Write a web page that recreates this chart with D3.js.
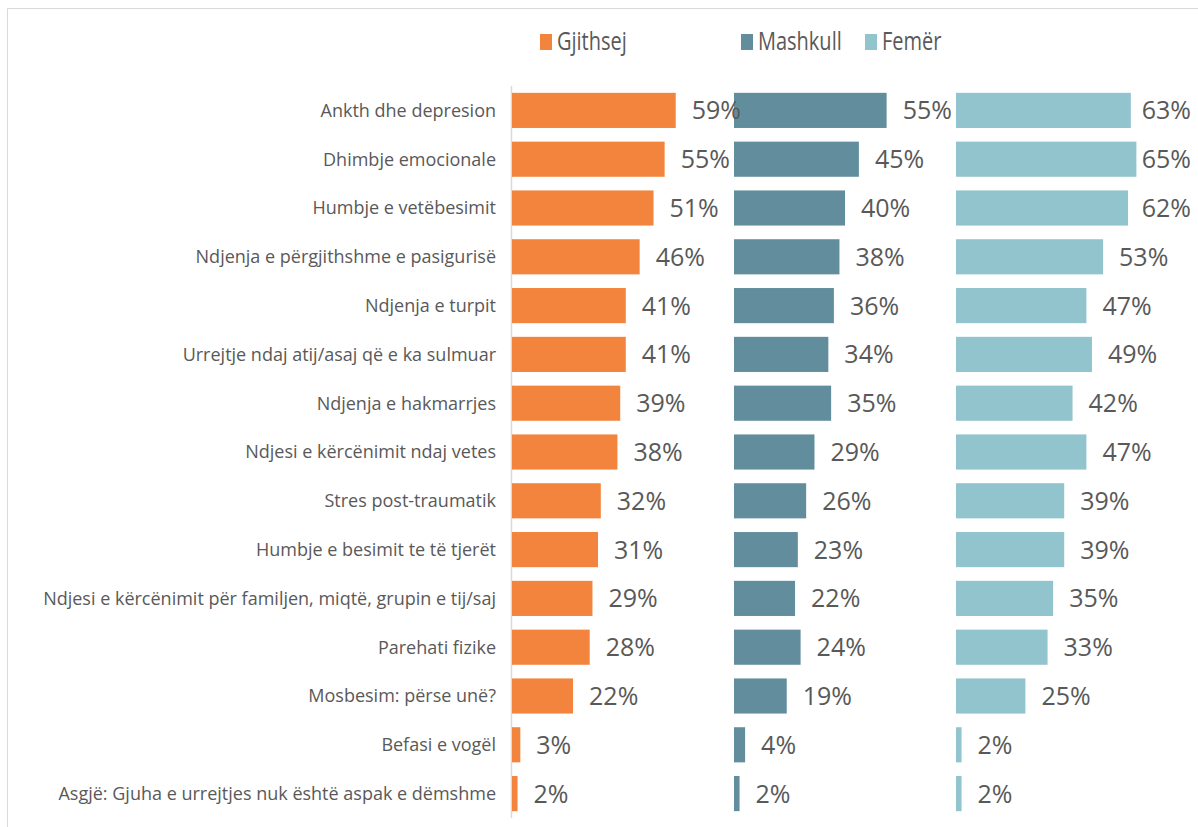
<!DOCTYPE html>
<html>
<head>
<meta charset="utf-8">
<script src="https://cdn.jsdelivr.net/npm/d3@7"></script>
<style>
  body { margin: 0; background: #fff; }
  svg { display: block; font-family: "Open Sans", sans-serif; }
</style>
</head>
<body>
<div id="chart"></div>
<script>
// Kategoritë (nga lart poshtë)
const categories = [
  "Ankth dhe depresion",
  "Dhimbje emocionale",
  "Humbje e vetëbesimit",
  "Ndjenja e përgjithshme e pasigurisë",
  "Ndjenja e turpit",
  "Urrejtje ndaj atij/asaj që e ka sulmuar",
  "Ndjenja e hakmarrjes",
  "Ndjesi e kërcënimit ndaj vetes",
  "Stres post-traumatik",
  "Humbje e besimit te të tjerët",
  "Ndjesi e kërcënimit për familjen, miqtë, grupin e tij/saj",
  "Parehati fizike",
  "Mosbesim: përse unë?",
  "Befasi e vogël",
  "Asgjë: Gjuha e urrejtjes nuk është aspak e dëmshme"
];

const seriesNames = ["Gjithsej", "Mashkull", "Femër"];

const gjithsej = [59, 55, 51, 46, 41, 41, 39, 38, 32, 31, 29, 28, 22, 3, 2];
const mashkull = [55, 45, 40, 38, 36, 34, 35, 29, 26, 23, 22, 24, 19, 4, 2];
const femer    = [63, 65, 62, 53, 47, 49, 42, 47, 39, 39, 35, 33, 25, 2, 2];

const colors = ["#F3843D", "#628D9C", "#91C4CD"];

const series = [gjithsej, mashkull, femer];

const width = 1198;
const height = 827;
const labelMaxX = 1191; // etiketat nuk kalojnë këtë kufi

const svg = d3.select("#chart")
  .append("svg")
  .attr("width", width)
  .attr("height", height);

// korniza e lehtë gri
svg.append("path")
  .attr("d", `M7.5,${height} V8.5 H${width}`)
  .attr("fill", "none")
  .attr("stroke", "#d9d9d9")
  .attr("stroke-width", 1);

// boshti vertikal
const y = d3.scaleBand()
  .domain(categories)
  .range([86, 818])
  .paddingInner(0.28)
  .paddingOuter(0.14);

// paneli për secilën seri
const panel = d3.scaleBand()
  .domain(seriesNames)
  .range([512, 512 + 3 * 222]);

const x = d3.scaleLinear()
  .domain([0, 80])
  .range([0, 222]);

svg.append("line")
  .attr("x1", 511.5).attr("x2", 511.5)
  .attr("y1", 86).attr("y2", 818)
  .attr("stroke", "#d9d9d9")
  .attr("stroke-width", 1.5);

// emrat e kategorive
svg.selectAll(".cat")
  .data(categories)
  .enter()
  .append("text")
  .attr("class", "cat")
  .attr("x", 496)
  .attr("y", d => y(d) + y.bandwidth() / 2)
  .attr("dy", "0.35em")
  .attr("text-anchor", "end")
  .attr("fill", "#595959")
  .style("font-size", "18px")
  .text(d => d);

// shiritat
series.forEach((vals, i) => {
  const x0 = panel(seriesNames[i]);
  svg.selectAll(".bar" + i)
    .data(vals)
    .enter()
    .append("rect")
    .attr("class", "bar" + i)
    .attr("x", x0)
    .attr("y", (d, j) => y(categories[j]))
    .attr("width", d => x(d))
    .attr("height", y.bandwidth())
    .attr("fill", colors[i]);
});

// etiketat e vlerave (mbi shiritat)
series.forEach((vals, i) => {
  const x0 = panel(seriesNames[i]);
  svg.selectAll(".val" + i)
    .data(vals)
    .enter()
    .append("text")
    .attr("class", "val" + i)
    .attr("x", d => x0 + x(d) + 16)
    .attr("y", (d, j) => y(categories[j]) + y.bandwidth() / 2)
    .attr("dy", "0.36em")
    .attr("fill", "#595959")
    .style("font-size", "25px")
    .text(d => d + "%")
    .each(function(d) {
      // zhvendos majtas nëse del jashtë
      const w = this.getComputedTextLength();
      const xx = +d3.select(this).attr("x");
      if (xx + w > labelMaxX) d3.select(this).attr("x", labelMaxX - w);
    });
});

// legjenda
const legendX = [540, 741, 865];
const legend = svg.selectAll(".legend")
  .data(seriesNames)
  .enter()
  .append("g")
  .attr("class", "legend")
  .attr("transform", (d, i) => `translate(${legendX[i]},0)`);

legend.append("rect")
  .attr("x", 0)
  .attr("y", 34)
  .attr("width", 12)
  .attr("height", 16)
  .attr("fill", (d, i) => colors[i]);

// teksti i legjendës është më i ngushtë në origjinal
legend.append("text")
  .attr("transform", "translate(17,50) scale(0.8,1)")
  .attr("fill", "#595959")
  .style("font-size", "25px")
  .text(d => d);
</script>
</body>
</html>
